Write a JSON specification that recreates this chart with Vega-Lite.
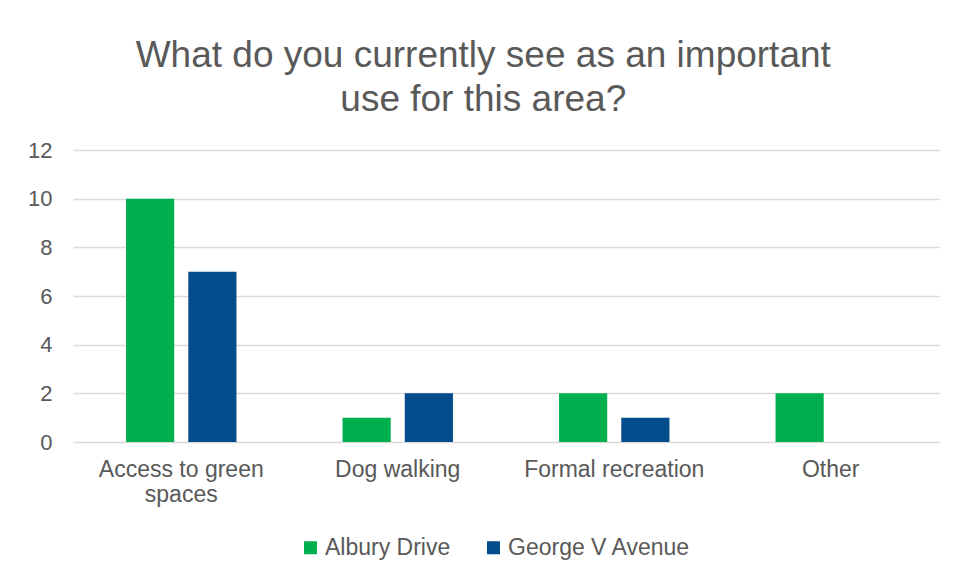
{
  "$schema": "https://vega.github.io/schema/vega-lite/v6.json",
  "width": 866,
  "height": 292,
  "padding": {"left": 27, "top": 37, "right": 17, "bottom": 10},
  "background": "white",
  "title": {
    "text": ["What do you currently see as an important", "use for this area?"],
    "font": "Liberation Sans",
    "fontSize": 37,
    "fontWeight": "normal",
    "color": "#595959",
    "lineHeight": 44,
    "anchor": "middle",
    "frame": "bounds",
    "offset": 20
  },
  "data": {
    "values": [
      {"category": "Access to green spaces", "series": "Albury Drive", "value": 10},
      {"category": "Access to green spaces", "series": "George V Avenue", "value": 7},
      {"category": "Dog walking", "series": "Albury Drive", "value": 1},
      {"category": "Dog walking", "series": "George V Avenue", "value": 2},
      {"category": "Formal recreation", "series": "Albury Drive", "value": 2},
      {"category": "Formal recreation", "series": "George V Avenue", "value": 1},
      {"category": "Other", "series": "Albury Drive", "value": 2},
      {"category": "Other", "series": "George V Avenue", "value": 0}
    ]
  },
  "mark": {"type": "bar"},
  "encoding": {
    "x": {
      "field": "category",
      "type": "nominal",
      "sort": null,
      "title": null,
      "scale": {"paddingInner": 0.49, "paddingOuter": 0.245},
      "axis": {
        "labelAngle": 0,
        "labelExpr": "datum.value == 'Access to green spaces' ? ['Access to green', 'spaces'] : datum.value",
        "labelFontSize": 23,
        "labelFont": "Liberation Sans",
        "labelColor": "#595959",
        "labelLineHeight": 25,
        "labelPadding": 16,
        "labelLimit": 400,
        "ticks": false,
        "domain": false,
        "grid": false
      }
    },
    "xOffset": {
      "field": "series",
      "type": "nominal",
      "scale": {"paddingInner": 0.226, "paddingOuter": 0}
    },
    "y": {
      "field": "value",
      "type": "quantitative",
      "title": null,
      "scale": {"domain": [0, 12], "nice": false},
      "axis": {
        "values": [0, 2, 4, 6, 8, 10, 12],
        "labelFontSize": 22,
        "labelFont": "Liberation Sans",
        "labelColor": "#595959",
        "labelPadding": 21,
        "ticks": false,
        "domain": false,
        "grid": true,
        "gridColor": "#D9D9D9",
        "gridWidth": 1.5
      }
    },
    "color": {
      "field": "series",
      "type": "nominal",
      "title": null,
      "scale": {"domain": ["Albury Drive", "George V Avenue"], "range": ["#00B04F", "#034C8C"]},
      "legend": {
        "orient": "none",
        "legendX": 226,
        "legendY": 386,
        "direction": "horizontal",
        "symbolType": "square",
        "symbolSize": 169,
        "symbolStrokeWidth": 0,
        "labelFontSize": 23,
        "labelFont": "Liberation Sans",
        "labelColor": "#595959",
        "labelOffset": 3,
        "labelLimit": 400,
        "columnPadding": 31
      }
    }
  },
  "config": {
    "view": {"stroke": null}
  }
}
